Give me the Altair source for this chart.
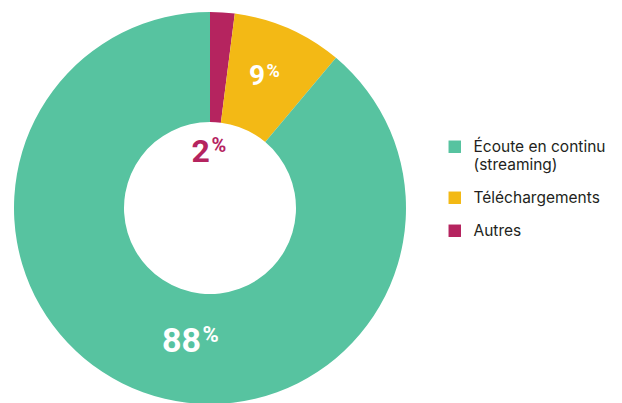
import altair as alt
import pandas as pd

categories = ["Autres", "Téléchargements", "Écoute en continu (streaming)"]
values = [2, 9, 88]
order = [0, 1, 2]
labels = ["2", "9", "88"]

legend_order = ["Écoute en continu (streaming)", "Téléchargements", "Autres"]
colors = ["#57C3A0", "#F3B915", "#B5245F"]

df = pd.DataFrame({"cat": categories, "val": values, "ord": order, "lab": labels})

FONT = "Inter"
NUMFONT = "Roboto"

color = alt.Color(
    "cat:N",
    scale=alt.Scale(domain=legend_order, range=colors),
    legend=alt.Legend(
        title=None,
        orient="none",
        legendX=439,
        legendY=131,
        symbolType="square",
        symbolSize=155,
        symbolStrokeWidth=0,
        labelFontSize=15.5,
        labelFont=FONT,
        labelColor="#231F20",
        labelOffset=11,
        rowPadding=16,
        labelLimit=300,
        labelExpr="datum.label == 'Écoute en continu (streaming)' ? ['Écoute en continu', '(streaming)'] : datum.label",
    ),
)

arcs = alt.Chart(df).mark_arc(outerRadius=196, innerRadius=86, stroke=None).encode(
    theta=alt.Theta("val:Q", stack=True),
    order=alt.Order("ord:Q"),
    color=color,
)

mids = alt.Chart(df).transform_window(
    cum="sum(val)", sort=[alt.SortField("ord")], frame=[None, 0]
).transform_calculate(mid="datum.cum - datum.val / 2")


def label(cat, radius, dx, dy, fill, size, psize, pdy):
    sub = mids.transform_filter(alt.datum.cat == cat).encode(
        theta=alt.Theta("mid:Q")
    )
    num = sub.mark_text(
        radius=radius, dx=dx, dy=dy, align="right", baseline="alphabetic",
        font=NUMFONT, fontSize=size, fontWeight="bold", fill=fill,
    ).encode(text="lab:N")
    pct = sub.mark_text(
        radius=radius, dx=dx + 1.5, dy=dy + pdy, align="left", baseline="alphabetic",
        font=NUMFONT, fontSize=psize, fontWeight="bold", fill=fill,
    ).encode(text=alt.value("%"))
    return num + pct


chart = alt.layer(
    arcs,
    label("Autres", 56, -3.6, 10, "#B5245F", 32, 20, -10),
    label("Téléchargements", 141, -1.5, 6, "white", 28, 18, -8),
    label("Écoute en continu (streaming)", 133, 36.5, 19, "white", 34, 22, -10),
).properties(
    width=404, height=400, padding=0,
).configure(
    style={"guide-label": {"lineHeight": 18}}
).configure_view(stroke=None)

chart.save("out.html", embed_options={"renderer": "svg", "actions": False})
